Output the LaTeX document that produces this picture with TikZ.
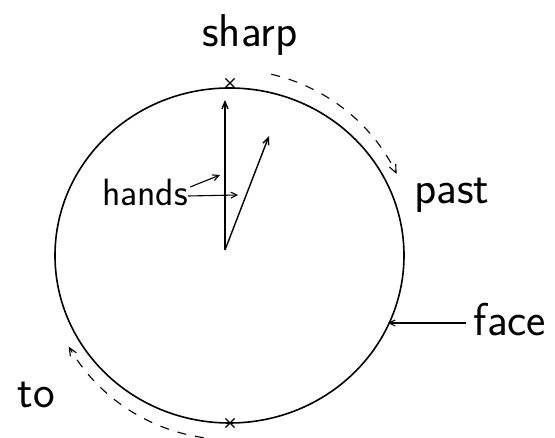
\documentclass[tikz,border=0pt]{standalone}
\usepackage{tikz}
\usetikzlibrary{arrows.meta,shapes.misc,calc}

\tikzset{
  lbl/.style={font=\sffamily\fontsize{46}{46}\selectfont, inner sep=0pt},
  tick/.style={draw, cross out, line width=1.1pt, minimum size=8pt, inner sep=0pt},
  hand/.style={line width=1.4pt, -{Straight Barb[length=7pt,width=6pt]}},
  pointer/.style={line width=1.1pt, -{Straight Barb[length=6pt,width=6pt]}},
  motion/.style={line width=1.1pt, dash pattern=on 9pt off 9pt, -{Straight Barb[length=8pt,width=7pt]}}
}

\begin{document}
\begin{tikzpicture}[x=1pt, y=1pt]
  \useasboundingbox (0,0) rectangle (555,438);
  \fill[white] (0,0) rectangle (555,438);

  % clock face
  \coordinate (c) at (229.5,182.5);
  \draw[line width=1.6pt] (c) ellipse[x radius=174.5, y radius=167.5];

  % marks at the top and bottom
  \node[tick] (top) at (230,355) {};
  \node[tick] (bottom) at (230,15) {};

  % hands
  \coordinate (hub) at (225,188);
  \coordinate (mtip) at (225,338);
  \coordinate (htip) at (269,302);
  \draw[hand] (hub) -- (mtip);
  \draw[hand] (hub) -- (htip);

  % labels
  \node[lbl] (sharp) at (250,403) {sharp};
  \node[lbl] (past) at (452,243) {past};
  \node[lbl] (face) at (510,118) {face};
  \node[lbl] (to) at (36,43) {to};
  \node[lbl, font=\sffamily\fontsize{38}{38}\selectfont] (hands) at (145,246) {hands};

  % pointers from the labels
  \coordinate (hA) at (220,263);
  \coordinate (hB) at (238,243);
  \draw[pointer] ([shift={(2pt,5pt)}]hands.east) -- (hA);
  \draw[pointer] ([yshift=-4pt]hands.east) -- (hB);
  \coordinate (rim) at (388,115);
  \draw[pointer] ([xshift=-8pt]face.west |- rim) -- (rim);

  % direction of motion
  \coordinate (fwd) at ($(c)+(77:186)$);
  \coordinate (back) at ($(c)+(262:184)$);
  \draw[motion] (fwd) arc[start angle=77, end angle=26, radius=186];
  \draw[motion] (back) arc[start angle=262, end angle=210, radius=186];
\end{tikzpicture}
\end{document}
